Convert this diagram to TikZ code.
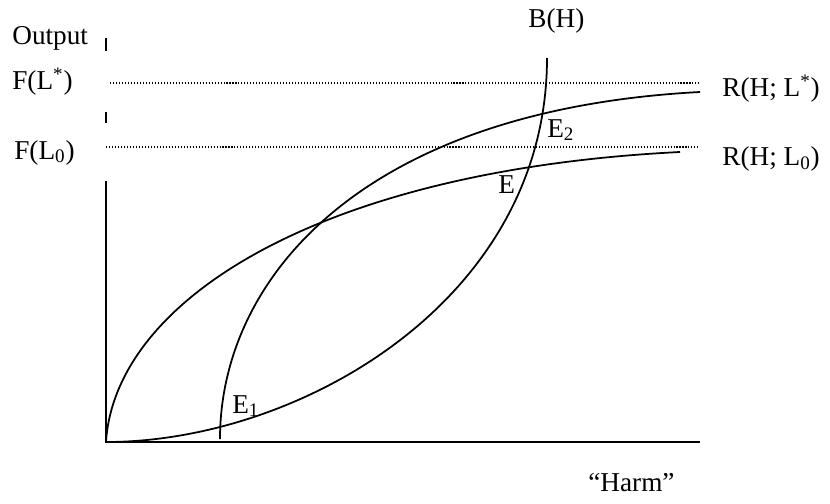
\documentclass[tikz,border=0pt]{standalone}
\usepackage{fontspec}
\setmainfont{Liberation Serif}

\begin{document}
\begin{tikzpicture}[
    x=0.02cm, y=-0.02cm,
    lbl/.style={font=\fontsize{15.5}{18}\selectfont, inner sep=0pt, anchor=base west},
    curve/.style={line width=1pt},
    axis/.style={line width=1.2pt},
    guide/.style={line width=0.6pt, dash pattern=on 0.6pt off 1.1pt}
]
\useasboundingbox (0,0) rectangle (830,503);

% Axes
\coordinate (o) at (106,442);
\coordinate (xend) at (700,442);
\coordinate (ya1) at (106,38);  \coordinate (yb1) at (106,51);
\coordinate (ya2) at (106,112); \coordinate (yb2) at (106,123);
\coordinate (ya3) at (106,181);
\draw[axis] (ya1) -- (yb1);
\draw[axis] (ya2) -- (yb2);
\draw[axis] (ya3) -- (o) -- (xend);

% Levels F(L*) and F(L0)
\coordinate (fs0) at (110,83);  \coordinate (fs1) at (700,83);
\coordinate (fo0) at (106,147); \coordinate (fo1) at (700,147);
\draw[guide] (fs0) -- (fs1);
\draw[guide] (fo0) -- (fo1);

% Curves
\coordinate (rlo) at (680,152);
\coordinate (rs0) at (220,439);
\coordinate (rs1) at (700,92);
\coordinate (bh) at (547,58);
\draw[curve] (o) .. controls (115,300) and (320,170) .. (rlo);  % R(H; L0)
\draw[curve] (rs0) .. controls (220,280) and (360,110) .. (rs1); % R(H; L*)
\draw[curve] (o) .. controls (300,442) and (547,300) .. (bh);   % B(H)

% Labels
\node[lbl] (output) at (12,45) {Output};
\node[lbl] (fls) at (12,90) {F(L\textsuperscript{*})};
\node[lbl] (flo) at (14,159) {F(L\textsubscript{0})};
\node[lbl] (rhs) at (722,97) {R(H; L\textsuperscript{*})};
\node[lbl] (rho) at (722,166) {R(H; L\textsubscript{0})};
\node[lbl] (bhl) at (528,28) {B(H)};
\node[lbl] (harm) at (588,491) {“Harm”};
\node[lbl] (e) at (498,194) {E};
\node[lbl] (e1) at (232,413) {E\textsubscript{1}};
\node[lbl] (e2) at (547,137) {E\textsubscript{2}};
\end{tikzpicture}
\end{document}
